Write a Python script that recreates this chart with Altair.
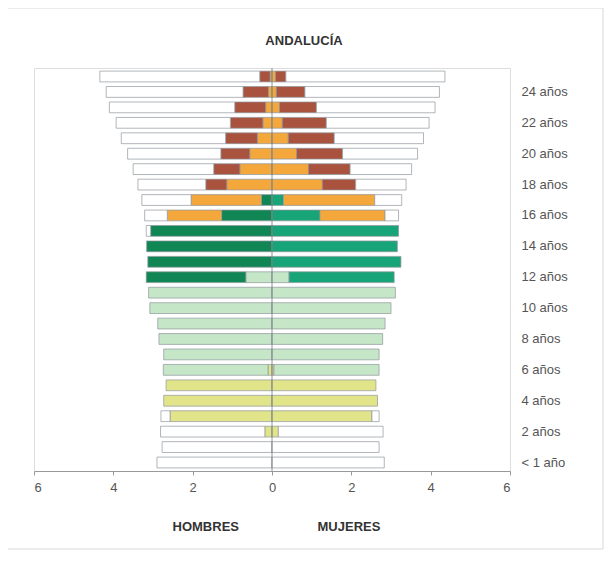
import altair as alt
import pandas as pd

FONT = "Liberation Sans, Arial, sans-serif"

ages = list(range(26))  # 0 (< 1 año) .. 25 años
levels = ["infantil", "primaria", "eso", "post", "univ", "none"]

# Men (left side), width of each segment, from the centre outward
m_infantil = [0, 0, 0.18, 2.57, 2.73, 2.67, 0.10, 0, 0, 0, 0, 0, 0, 0, 0, 0, 0, 0, 0, 0, 0, 0, 0, 0, 0, 0]
m_primaria = [0, 0, 0, 0, 0, 0, 2.64, 2.73, 2.85, 2.88, 3.08, 3.11, 0.66, 0, 0, 0, 0, 0, 0, 0, 0, 0, 0, 0, 0, 0]
m_eso = [0, 0, 0, 0, 0, 0, 0, 0, 0, 0, 0, 0, 2.51, 3.13, 3.16, 3.06, 1.27, 0.27, 0, 0, 0, 0, 0, 0, 0, 0]
m_post = [0, 0, 0, 0, 0, 0, 0, 0, 0, 0, 0, 0, 0, 0, 0, 0, 1.37, 1.77, 1.14, 0.81, 0.56, 0.37, 0.23, 0.16, 0.09, 0.05]
m_univ = [0, 0, 0, 0, 0, 0, 0, 0, 0, 0, 0, 0, 0, 0, 0, 0, 0, 0, 0.53, 0.66, 0.73, 0.80, 0.82, 0.78, 0.64, 0.26]
m_none = [2.90, 2.77, 2.63, 0.23, 0, 0, 0, 0, 0, 0, 0, 0, 0, 0, 0, 0.11, 0.57, 1.24, 1.71, 2.03, 2.35, 2.63, 2.88, 3.16, 3.45, 4.03]

# Women (right side)
f_infantil = [0, 0, 0.16, 2.52, 2.66, 2.62, 0.05, 0, 0, 0, 0, 0, 0, 0, 0, 0, 0, 0, 0, 0, 0, 0, 0, 0, 0, 0]
f_primaria = [0, 0, 0, 0, 0, 0, 2.65, 2.70, 2.79, 2.85, 3.00, 3.11, 0.43, 0, 0, 0, 0, 0, 0, 0, 0, 0, 0, 0, 0, 0]
f_eso = [0, 0, 0, 0, 0, 0, 0, 0, 0, 0, 0, 0, 2.65, 3.25, 3.16, 3.19, 1.21, 0.29, 0, 0, 0, 0, 0, 0, 0, 0]
f_post = [0, 0, 0, 0, 0, 0, 0, 0, 0, 0, 0, 0, 0, 0, 0, 0, 1.64, 2.30, 1.27, 0.92, 0.62, 0.41, 0.26, 0.19, 0.11, 0.09]
f_univ = [0, 0, 0, 0, 0, 0, 0, 0, 0, 0, 0, 0, 0, 0, 0, 0, 0, 0, 0.84, 1.05, 1.16, 1.16, 1.11, 0.93, 0.72, 0.26]
f_none = [2.83, 2.70, 2.64, 0.18, 0, 0, 0, 0, 0, 0, 0, 0, 0, 0, 0, 0, 0.34, 0.68, 1.27, 1.55, 1.89, 2.25, 2.59, 2.99, 3.39, 4.01]

axis_ticks = [-6, -4, -2, 0, 2, 4, 6]
sex_labels = ["HOMBRES", "MUJERES"]
sex_label_x = [-1.67, 1.94]
title_text = ["ANDALUCÍA"]

palette = {
    "infantil_m": "#e2e48a", "infantil_f": "#e2e48a",
    "primaria_m": "#c6e6c8", "primaria_f": "#c6e6c8",
    "eso_m": "#0f8654", "eso_f": "#17a476",
    "post_m": "#f4a73b", "post_f": "#f4a73b",
    "univ_m": "#a9533f", "univ_f": "#a9533f",
    "none_m": "#ffffff", "none_f": "#ffffff",
}

men = [m_infantil, m_primaria, m_eso, m_post, m_univ, m_none]
women = [f_infantil, f_primaria, f_eso, f_post, f_univ, f_none]

rows = []
for rank, lvl in enumerate(levels):
    for a in ages:
        vm = men[rank][a]
        vf = women[rank][a]
        if vm > 0:
            rows.append({"age": a, "value": -vm, "key": lvl + "_m", "rank": rank})
        if vf > 0:
            rows.append({"age": a, "value": vf, "key": lvl + "_f", "rank": rank})
df = pd.DataFrame(rows)

label_expr = ("datum.value == 0 ? '< 1 año' : "
              "(datum.value % 2 == 0 ? datum.value + ' años' : '')")

bars = alt.Chart(df).mark_bar(stroke="#8f979d", strokeWidth=0.7).encode(
    x=alt.X("value:Q", stack="zero",
            scale=alt.Scale(domain=[-6, 6], nice=False, zero=False),
            axis=alt.Axis(values=axis_ticks, labelExpr="abs(datum.value)",
                          title=None, grid=False, tickSize=4, tickColor="#999999",
                          domainColor="#999999", labelColor="#555555",
                          labelFontSize=13, labelFont=FONT, labelPadding=6)),
    y=alt.Y("age:O", sort="descending",
            scale=alt.Scale(paddingInner=0.3, paddingOuter=0.2),
            axis=alt.Axis(orient="right", labelExpr=label_expr, title=None,
                          domain=False, ticks=False, labelPadding=11,
                          labelAlign="left", labelColor="#555555",
                          labelFontSize=13, labelFont=FONT)),
    color=alt.Color("key:N", scale=alt.Scale(domain=list(palette.keys()),
                                             range=list(palette.values())),
                    legend=None),
    order=alt.Order("rank:Q"),
)

center = alt.Chart(alt.Data(values=[{"v": 0}])).mark_rule(
    color="#6f7a80", strokeWidth=0.8
).encode(x=alt.X("v:Q"))

sex_df = pd.DataFrame({"label": sex_labels, "x": sex_label_x})
sex_text = alt.Chart(sex_df).mark_text(
    font=FONT, fontSize=13, fontWeight="bold", color="#333333", baseline="middle"
).encode(x=alt.X("x:Q"), y=alt.value(459), text="label:N")

title = alt.Chart(pd.DataFrame({"t": title_text})).mark_text(
    font=FONT, fontSize=13, fontWeight="bold", color="#333333", baseline="middle"
).encode(x=alt.value(270), y=alt.value(-27), text="t:N")

frame = alt.Chart(alt.Data(values=[{"a": 1}])).mark_rect(
    fillOpacity=0, stroke="#d9d9d9", strokeWidth=1, clip=False
).encode(x=alt.value(-28), x2=alt.value(569), y=alt.value(-60), y2=alt.value(481))

chart = alt.layer(frame, bars, center, sex_text, title).properties(
    width=476, height=403,
    autosize=alt.AutoSizeParams(type="none"),
    padding={"left": 26, "top": 60, "right": 94, "bottom": 80},
).configure_view(strokeWidth=0).configure(background="white")

chart.save("out.html", embed_options={"renderer": "svg", "actions": False})
